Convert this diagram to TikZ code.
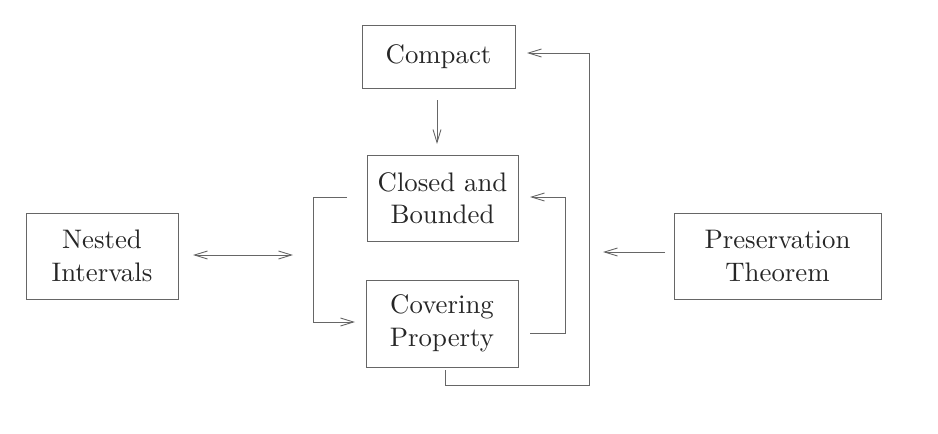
\documentclass[tikz,border=0pt]{standalone}
\usepackage{fontspec}
\newfontfamily\tenrm{lmroman10-regular.otf}
\usetikzlibrary{arrows.meta}
\begin{document}
\begin{tikzpicture}[x=1pt,y=-1pt,
  box/.style={draw=black!60,line width=0.9pt,align=center,inner sep=0pt,
    font=\tenrm\fontsize{26.8}{32.5}\selectfont,text=black!85},
  tip/.tip={Straight Barb[length=13pt,width=8pt,line width=0.9pt]},
  conn/.style={draw=black!60,line width=0.9pt,-tip}]
\useasboundingbox (0,0) rectangle (938,434);
\node[box,minimum width=153pt,minimum height=63pt] (cp) at (438.5,56.5) {Compact};
\node[box,minimum width=151pt,minimum height=86pt] (cb) at (442.5,198) {Closed and\\Bounded};
\node[box,minimum width=152pt,minimum height=87pt] (cv) at (442,323.5) {Covering\\Property};
\node[box,minimum width=152pt,minimum height=86pt] (ni) at (102,256) {Nested\\Intervals};
\node[box,minimum width=207pt,minimum height=86pt] (pt) at (777.5,256) {Preservation\\Theorem};
% coordinates for free ends
\coordinate (a1) at (437,100);
\coordinate (a2) at (437,144);
\coordinate (l1) at (347,197);
\coordinate (l2) at (355,322);
\coordinate (d1) at (193,255);
\coordinate (d2) at (293,255);
\coordinate (r1) at (530,333);
\coordinate (r2) at (530,197);
\coordinate (b1) at (445,370);
\coordinate (b2) at (527,53);
\coordinate (p1) at (665,252);
\coordinate (p2) at (603,252);
\draw[conn] (a1) -- (a2);
\draw[conn] (l1) -- (313,197) |- (l2);
\draw[conn,tip-tip] (d1) -- (d2);
\draw[conn] (r1) -- (565,333) |- (r2);
\draw[conn] (b1) -- (445,385) -- (589,385) |- (b2);
\draw[conn] (p1) -- (p2);
\end{tikzpicture}
\end{document}
